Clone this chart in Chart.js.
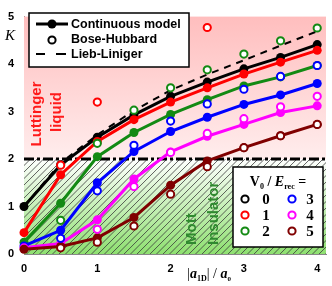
<!DOCTYPE html>
<html>
<head>
<meta charset="utf-8">
<script src="https://cdn.jsdelivr.net/npm/chart.js@4.4.1/dist/chart.umd.min.js"></script>
<style>
  html, body { margin: 0; padding: 0; background: #fff; }
</style>
</head>
<body>
<canvas id="kChart" width="332" height="286"></canvas>
<script>
// |a1D| / a0 sample positions
const aRatio = [0, 0.5, 1, 1.5, 2, 2.5, 3, 3.5, 4];
const xTicks = [0, 1, 2, 3, 4];
const yTicks = [0, 1, 2, 3, 4, 5];
const depths = [0, 1, 2, 3, 4, 5];

// continuous model K, one array per V0/Erec
const contV0 = [1.00, 1.88, 2.46, 2.93, 3.32, 3.62, 3.90, 4.14, 4.41];
const contV1 = [0.45, 1.67, 2.37, 2.83, 3.20, 3.50, 3.79, 4.04, 4.29];
const contV2 = [0.25, 1.07, 2.05, 2.56, 2.94, 3.25, 3.54, 3.73, 3.97];
const contV3 = [0.17, 0.50, 1.50, 2.16, 2.58, 2.88, 3.15, 3.35, 3.59];
const contV4 = [0.13, 0.22, 0.72, 1.58, 2.15, 2.48, 2.73, 2.98, 3.12];
const contV5 = [0.10, 0.16, 0.34, 0.77, 1.45, 1.96, 2.24, 2.49, 2.73];

// Bose-Hubbard K (null = not shown)
const bhV1 = [null, 1.87, 3.20, null, null, 4.77, null, null, null];
const bhV2 = [null, 0.71, 2.33, 3.03, 3.50, 3.88, 4.21, 4.49, 4.76];
const bhV3 = [null, 0.33, 1.33, 2.29, 2.80, 3.16, 3.47, 3.74, 3.97];
const bhV4 = [null, null, 0.52, 1.42, 2.14, 2.54, 2.85, 3.10, 3.32];
const bhV5 = [null, 0.13, 0.25, 0.59, 1.26, 1.84, 2.24, 2.49, 2.73];

// Lieb-Liniger
const liebLiniger = [1.00, 1.92, 2.51, 3.02, 3.45, 3.78, 4.08, 4.39, 4.69];

// Mott transition level
const mottK = 2;
const xMax = 4.12;

const colors = ['#000000', '#ff0000', '#138a13', '#0000ff', '#ff00ff', '#800000'];
const contSeries = [contV0, contV1, contV2, contV3, contV4, contV5];
const bhSeries = [null, bhV1, bhV2, bhV3, bhV4, bhV5];

const toPoints = arr => aRatio.map((x, j) => ({ x: x, y: arr[j] })).filter(p => p.y !== null);

const datasets = [];

depths.forEach((v, i) => {
  datasets.push({
    label: 'Continuous V0=' + v,
    data: toPoints(contSeries[i]),
    borderColor: colors[i],
    backgroundColor: colors[i],
    borderWidth: 3,
    pointRadius: 4.5,
    pointBorderWidth: 0,
    order: 10 - i
  });
  if (bhSeries[i]) {
    datasets.push({
      label: 'Bose-Hubbard V0=' + v,
      data: toPoints(bhSeries[i]),
      showLine: false,
      borderColor: colors[i],
      pointBorderColor: colors[i],
      pointBackgroundColor: '#ffffff',
      pointRadius: 3.6,
      pointBorderWidth: 2,
      order: 1
    });
  }
});

datasets.push({
  label: 'Lieb-Liniger',
  data: toPoints(liebLiniger),
  borderColor: '#000',
  borderWidth: 2,
  borderDash: [7, 6],
  pointRadius: 0,
  order: 2
});

datasets.push({
  label: 'K = 2',
  data: [{ x: 0, y: mottK }, { x: xMax, y: mottK }],
  borderColor: '#000',
  borderWidth: 3,
  borderDash: [10, 3, 3, 3],
  pointRadius: 0,
  order: 20
});

// background: pink above K=2, hatched green below
const phasePlugin = {
  id: 'phases',
  beforeDatasetsDraw(chart) {
    const { ctx, chartArea: ca } = chart;
    const y2 = chart.scales.y.getPixelForValue(mottK);
    ctx.save();
    let g = ctx.createLinearGradient(0, ca.top, 0, y2);
    g.addColorStop(0, '#ffbebe');
    g.addColorStop(1, '#ffeded');
    ctx.fillStyle = g;
    ctx.fillRect(ca.left, ca.top, ca.right - ca.left, y2 - ca.top);

    g = ctx.createLinearGradient(0, y2, 0, ca.bottom);
    g.addColorStop(0, '#ffffff');
    g.addColorStop(1, '#8ee070');
    ctx.fillStyle = g;
    ctx.fillRect(ca.left, y2, ca.right - ca.left, ca.bottom - y2);

    // hatch
    ctx.beginPath();
    ctx.rect(ca.left, y2, ca.right - ca.left, ca.bottom - y2);
    ctx.clip();
    const h = ca.bottom - y2;
    ctx.strokeStyle = '#3a3a3a';
    ctx.lineWidth = 0.8;
    ctx.beginPath();
    for (let k = -h; k < ca.right - ca.left; k += 6.5) {
      ctx.moveTo(ca.left + k, ca.bottom);
      ctx.lineTo(ca.left + k + h, y2);
    }
    ctx.stroke();
    ctx.restore();

    // phase labels
    ctx.save();
    ctx.font = 'bold 15px "Liberation Sans", Arial, sans-serif';
    ctx.textBaseline = 'middle';
    ctx.fillStyle = '#ff1a1a';
    ctx.textAlign = 'center';
    const rot = (txt, x, y) => {
      ctx.save();
      ctx.translate(x, y);
      ctx.rotate(-Math.PI / 2);
      ctx.fillText(txt, 0, 0);
      ctx.restore();
    };
    rot('Luttinger', 37, 114);
    rot('liquid', 57, 112);
    ctx.fillStyle = '#2f8a2f';
    ctx.textAlign = 'left';
    rot('Mott', 192, 245);
    rot('Insulator', 214, 245);
    ctx.restore();
  },
  afterDraw(chart) {
    const ctx = chart.ctx;
    ctx.save();

    const openCircle = (x, y, c) => {
      ctx.beginPath();
      ctx.arc(x, y, 3.6, 0, Math.PI * 2);
      ctx.fillStyle = '#fff';
      ctx.fill();
      ctx.lineWidth = 2;
      ctx.strokeStyle = c;
      ctx.stroke();
    };

    // legend 1
    ctx.fillStyle = '#fff';
    ctx.fillRect(29, 13, 160, 54);
    ctx.lineWidth = 1.5;
    ctx.strokeStyle = '#000';
    ctx.strokeRect(29, 13, 160, 54);

    ctx.lineWidth = 3;
    ctx.beginPath();
    ctx.moveTo(36, 24);
    ctx.lineTo(68, 24);
    ctx.stroke();
    ctx.beginPath();
    ctx.arc(52, 24, 4.5, 0, Math.PI * 2);
    ctx.fillStyle = '#000';
    ctx.fill();
    openCircle(52, 40, '#000');
    ctx.lineWidth = 2;
    ctx.beginPath();
    ctx.moveTo(36, 54); ctx.lineTo(45, 54);
    ctx.moveTo(56, 54); ctx.lineTo(66, 54);
    ctx.strokeStyle = '#000';
    ctx.stroke();

    ctx.fillStyle = '#000';
    ctx.font = 'bold 12.5px "Liberation Sans", Arial, sans-serif';
    ctx.textAlign = 'left';
    ctx.textBaseline = 'middle';
    ctx.fillText('Continuous model', 71, 25);
    ctx.fillText('Bose-Hubbard', 71, 40);
    ctx.fillText('Lieb-Liniger', 71, 55);

    // legend 2
    ctx.fillStyle = '#fff';
    ctx.fillRect(233, 167, 90, 80);
    ctx.lineWidth = 1.5;
    ctx.strokeStyle = '#000';
    ctx.strokeRect(233, 167, 90, 80);

    const serif = '"Liberation Serif", "Times New Roman", serif';
    const parts = [
      ['V', 'bold 14px ' + serif, 0],
      ['0', 'bold 8px ' + serif, 3],
      [' / ', 'bold 14px ' + serif, 0],
      ['E', 'italic bold 14px ' + serif, 0],
      ['rec', 'bold 8px ' + serif, 3],
      [' =', 'bold 14px ' + serif, 0]
    ];
    const drawParts = (list, cx, base) => {
      let w = 0;
      list.forEach(p => { ctx.font = p[1]; w += ctx.measureText(p[0]).width; });
      let x = cx - w / 2;
      ctx.textAlign = 'left';
      ctx.textBaseline = 'alphabetic';
      list.forEach(p => {
        ctx.font = p[1];
        ctx.fillText(p[0], x, base + p[2]);
        x += ctx.measureText(p[0]).width;
      });
    };
    ctx.fillStyle = '#000';
    drawParts(parts, 278, 186);

    const rowsY = [199, 215, 231];
    depths.forEach((v, i) => {
      const col = i < 3 ? 0 : 1;
      const y = rowsY[i % 3];
      openCircle(col ? 292 : 245, y, colors[i]);
      ctx.fillStyle = '#000';
      ctx.font = 'bold 15px ' + serif;
      ctx.textAlign = 'center';
      ctx.textBaseline = 'middle';
      ctx.fillText(String(v), col ? 310 : 266, y + 1);
    });

    // axis titles
    ctx.fillStyle = '#000';
    ctx.font = 'italic 15px ' + serif;
    ctx.textAlign = 'center';
    ctx.textBaseline = 'middle';
    ctx.fillText('K', 10, 36);

    drawParts([
      ['|', '14px ' + serif, 0],
      ['a', 'italic bold 14px ' + serif, 0],
      ['1D', 'bold 8px ' + serif, 3],
      ['| / ', '14px ' + serif, 0],
      ['a', 'italic bold 14px ' + serif, 0],
      ['0', 'bold 7px ' + serif, 3]
    ], 209, 278);

    ctx.restore();
  }
};

const tickFont = { family: '"Liberation Sans", Arial, sans-serif', weight: 'bold', size: 11 };

new Chart(document.getElementById('kChart').getContext('2d'), {
  type: 'line',
  data: { datasets: datasets },
  options: {
    responsive: false,
    animation: false,
    devicePixelRatio: 1,
    layout: { padding: { top: 7, right: 0, left: 0, bottom: 0 } },
    elements: { line: { tension: 0 } },
    datasets: { line: { clip: false } },
    plugins: { legend: { display: false }, tooltip: { enabled: false } },
    scales: {
      x: {
        type: 'linear',
        min: 0,
        max: xMax,
        afterBuildTicks: s => { s.ticks = xTicks.map(v => ({ value: v })); },
        afterFit: s => { s.height = 32; },
        grid: { display: false, drawTicks: false },
        border: { color: '#888', width: 1 },
        ticks: { font: tickFont, color: '#000', padding: 8, maxRotation: 0 }
      },
      y: {
        min: 0,
        max: 5,
        afterBuildTicks: s => { s.ticks = yTicks.map(v => ({ value: v })); },
        afterFit: s => { s.width = 24; },
        grid: { display: false, drawTicks: false },
        border: { color: '#888', width: 1 },
        ticks: { font: tickFont, color: '#000', padding: 10 }
      }
    }
  },
  plugins: [phasePlugin]
});
</script>
</body>
</html>
